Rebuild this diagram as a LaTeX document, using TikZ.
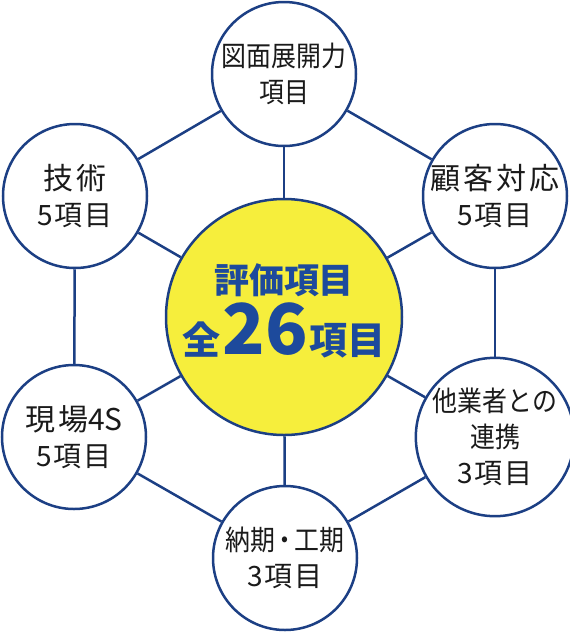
\documentclass[tikz,border=0pt]{standalone}
\usepackage{fontspec}
\setmainfont{Noto Sans CJK JP}
\newfontfamily\ftight[FakeStretch=0.89]{Noto Sans CJK JP}
\newfontfamily\fwide[LetterSpace=9]{Noto Sans CJK JP}
\newfontfamily\fnum[LetterSpace=5]{Noto Sans CJK JP}
\definecolor{navy}{HTML}{1C3F84}
\definecolor{textblue}{HTML}{1D4A9C}
\definecolor{sunyellow}{HTML}{F6EE3C}
\definecolor{txt}{HTML}{1A1A1A}
\begin{document}
\begin{tikzpicture}[x=1pt,y=-1pt,
  outer/.style={circle,draw=navy,line width=2.5pt,fill=white,minimum size=144pt,inner sep=0pt,
    align=center,text=txt,font=\fontsize{28}{36}\selectfont},
  hub/.style={circle,draw=navy,line width=2.5pt,fill=sunyellow,minimum size=236pt,inner sep=0pt},
  link/.style={draw=navy,line width=2.5pt},
  hubtext/.style={text=textblue,font=\bfseries,inner sep=0pt,anchor=base}]
\useasboundingbox (0,0) rectangle (570,633);
\node[hub] (c) at (284,317) {};
\node[hubtext] (l1) at (284,293) {\fontsize{35}{35}\selectfont 評価項目};
\node[hubtext] (l2) at (284,354) {\fontsize{38}{38}\selectfont 全\kern2pt\fontsize{70}{70}\selectfont 26\kern1pt\fontsize{38}{38}\selectfont 項目};
\node[outer] (n1) at (284,74) {{\ftight 図面展開力}\\{\ftight 項目}};
\node[outer] (n2) at (495,196) {{\fwide\fontsize{30}{36}\selectfont 顧客対応}\\{\fnum 5項目}};
\node[outer] (n3) at (495,437) {{\ftight 他業者との}\\{\ftight 連携}\\{\fnum 3項目}};
\node[outer] (n4) at (285,558) {{\ftight 納期\kern-3pt・\kern-3pt工期}\\{\fnum 3項目}};
\node[outer] (n5) at (74,437) {{\fontsize{30}{36}\selectfont{\fwide 現場}4S}\\{\fnum 5項目}};
\node[outer] (n6) at (75,196) {{\fwide\fontsize{30}{36}\selectfont 技術}\\{\fnum 5項目}};
\foreach \n in {n1,n2,n3,n4,n5,n6} \draw[link] (c) -- (\n);
\draw[link] (n1) -- (n2);
\draw[link] (n2) -- (n3);
\draw[link] (n3) -- (n4);
\draw[link] (n4) -- (n5);
\draw[link] (n5) -- (n6);
\draw[link] (n6) -- (n1);
\end{tikzpicture}
\end{document}
